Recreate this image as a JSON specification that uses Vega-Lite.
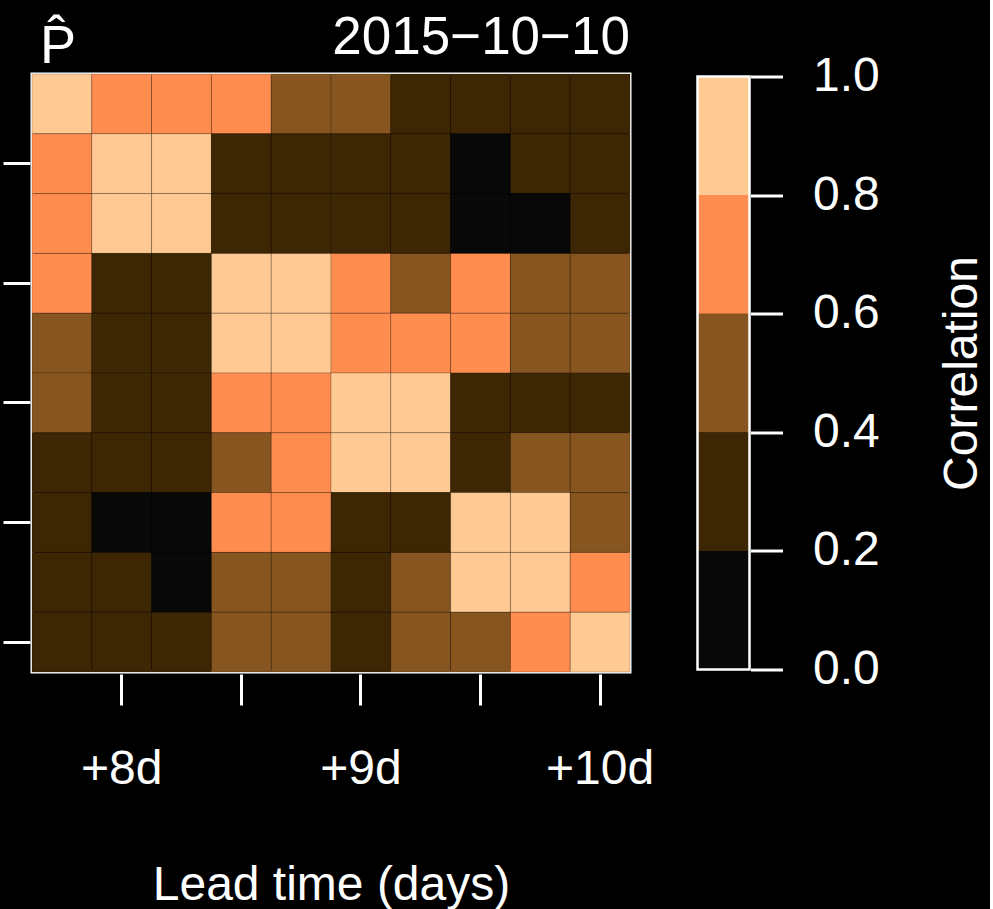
{
  "$schema": "https://vega.github.io/schema/vega-lite/v6.json",
  "autosize": {"type": "pad"},
  "padding": {"left": 0, "top": 10, "right": 3, "bottom": 0},
  "background": "black",
  "config": {"view": {"stroke": "white", "strokeWidth": 3}, "font": "Liberation Sans"},
  "bounds": "flush",
  "center": true,
  "spacing": 67.5,
  "datasets": {
    "cells": [
      {"col":7.75,"row":7.75,"r":1.00},{"col":8,"row":7.75,"r":0.72},{"col":8.25,"row":7.75,"r":0.68},{"col":8.5,"row":7.75,"r":0.64},{"col":8.75,"row":7.75,"r":0.55},{"col":9,"row":7.75,"r":0.47},{"col":9.25,"row":7.75,"r":0.36},{"col":9.5,"row":7.75,"r":0.28},{"col":9.75,"row":7.75,"r":0.31},{"col":10,"row":7.75,"r":0.25},
      {"col":7.75,"row":8,"r":0.72},{"col":8,"row":8,"r":1.00},{"col":8.25,"row":8,"r":0.93},{"col":8.5,"row":8,"r":0.34},{"col":8.75,"row":8,"r":0.30},{"col":9,"row":8,"r":0.27},{"col":9.25,"row":8,"r":0.24},{"col":9.5,"row":8,"r":0.15},{"col":9.75,"row":8,"r":0.22},{"col":10,"row":8,"r":0.26},
      {"col":7.75,"row":8.25,"r":0.68},{"col":8,"row":8.25,"r":0.93},{"col":8.25,"row":8.25,"r":1.00},{"col":8.5,"row":8.25,"r":0.37},{"col":8.75,"row":8.25,"r":0.33},{"col":9,"row":8.25,"r":0.29},{"col":9.25,"row":8.25,"r":0.26},{"col":9.5,"row":8.25,"r":0.12},{"col":9.75,"row":8.25,"r":0.17},{"col":10,"row":8.25,"r":0.23},
      {"col":7.75,"row":8.5,"r":0.64},{"col":8,"row":8.5,"r":0.34},{"col":8.25,"row":8.5,"r":0.37},{"col":8.5,"row":8.5,"r":1.00},{"col":8.75,"row":8.5,"r":0.91},{"col":9,"row":8.5,"r":0.71},{"col":9.25,"row":8.5,"r":0.57},{"col":9.5,"row":8.5,"r":0.63},{"col":9.75,"row":8.5,"r":0.49},{"col":10,"row":8.5,"r":0.44},
      {"col":7.75,"row":8.75,"r":0.55},{"col":8,"row":8.75,"r":0.30},{"col":8.25,"row":8.75,"r":0.33},{"col":8.5,"row":8.75,"r":0.91},{"col":8.75,"row":8.75,"r":1.00},{"col":9,"row":8.75,"r":0.76},{"col":9.25,"row":8.75,"r":0.66},{"col":9.5,"row":8.75,"r":0.61},{"col":9.75,"row":8.75,"r":0.52},{"col":10,"row":8.75,"r":0.46},
      {"col":7.75,"row":9,"r":0.47},{"col":8,"row":9,"r":0.27},{"col":8.25,"row":9,"r":0.29},{"col":8.5,"row":9,"r":0.71},{"col":8.75,"row":9,"r":0.76},{"col":9,"row":9,"r":1.00},{"col":9.25,"row":9,"r":0.89},{"col":9.5,"row":9,"r":0.38},{"col":9.75,"row":9,"r":0.32},{"col":10,"row":9,"r":0.35},
      {"col":7.75,"row":9.25,"r":0.36},{"col":8,"row":9.25,"r":0.24},{"col":8.25,"row":9.25,"r":0.26},{"col":8.5,"row":9.25,"r":0.57},{"col":8.75,"row":9.25,"r":0.66},{"col":9,"row":9.25,"r":0.89},{"col":9.25,"row":9.25,"r":1.00},{"col":9.5,"row":9.25,"r":0.39},{"col":9.75,"row":9.25,"r":0.45},{"col":10,"row":9.25,"r":0.43},
      {"col":7.75,"row":9.5,"r":0.28},{"col":8,"row":9.5,"r":0.15},{"col":8.25,"row":9.5,"r":0.12},{"col":8.5,"row":9.5,"r":0.63},{"col":8.75,"row":9.5,"r":0.61},{"col":9,"row":9.5,"r":0.38},{"col":9.25,"row":9.5,"r":0.39},{"col":9.5,"row":9.5,"r":1.00},{"col":9.75,"row":9.5,"r":0.92},{"col":10,"row":9.5,"r":0.58},
      {"col":7.75,"row":9.75,"r":0.31},{"col":8,"row":9.75,"r":0.22},{"col":8.25,"row":9.75,"r":0.17},{"col":8.5,"row":9.75,"r":0.49},{"col":8.75,"row":9.75,"r":0.52},{"col":9,"row":9.75,"r":0.32},{"col":9.25,"row":9.75,"r":0.45},{"col":9.5,"row":9.75,"r":0.92},{"col":9.75,"row":9.75,"r":1.00},{"col":10,"row":9.75,"r":0.74},
      {"col":7.75,"row":10,"r":0.25},{"col":8,"row":10,"r":0.26},{"col":8.25,"row":10,"r":0.23},{"col":8.5,"row":10,"r":0.44},{"col":8.75,"row":10,"r":0.46},{"col":9,"row":10,"r":0.35},{"col":9.25,"row":10,"r":0.43},{"col":9.5,"row":10,"r":0.58},{"col":9.75,"row":10,"r":0.74},{"col":10,"row":10,"r":1.00}
    ],
    "key": [
      {"lo": 0.0, "hi": 0.2},
      {"lo": 0.2, "hi": 0.4},
      {"lo": 0.4, "hi": 0.6},
      {"lo": 0.6, "hi": 0.8},
      {"lo": 0.8, "hi": 1.0}
    ]
  },
  "hconcat": [
    {
      "width": 598,
      "height": 598,
      "data": {"name": "cells"},
      "title": {"text": "2015−10−10", "anchor": "end", "frame": "group", "fontSize": 53, "font": "Liberation Sans", "fontWeight": "normal", "color": "white", "baseline": "alphabetic", "offset": -88},
      "mark": {"type": "rect", "stroke": "black", "strokeOpacity": 0.2, "strokeWidth": 1},
      "encoding": {
        "x": {
          "field": "col", "type": "ordinal",
          "scale": {"paddingInner": 0, "paddingOuter": 0},
          "axis": {
            "orient": "bottom", "offset": 2, "domain": false,
            "values": [8, 8.5, 9, 9.5, 10],
            "labelExpr": "datum.value % 1 === 0 ? '+' + datum.value + 'd' : ''",
            "tickColor": "white", "tickWidth": 3, "tickSize": 31,
            "labelColor": "white", "labelFontSize": 48, "labelFont": "Liberation Sans",
            "labelAngle": 0, "labelBaseline": "alphabetic", "labelPadding": 78,
            "labelOverlap": false, "labelFlush": false,
            "title": "Lead time (days)", "titleColor": "white", "titleFontSize": 48,
            "titleFont": "Liberation Sans", "titleFontWeight": "normal",
            "titleBaseline": "alphabetic", "titleY": 225
          }
        },
        "y": {
          "field": "row", "type": "ordinal",
          "scale": {"paddingInner": 0, "paddingOuter": 0},
          "axis": {
            "orient": "left", "offset": 2, "domain": false, "labels": false,
            "values": [8, 8.5, 9, 9.5, 10],
            "tickColor": "white", "tickWidth": 3, "tickSize": 27,
            "title": "P̂", "titleAngle": 0, "titleAlign": "center",
            "titleBaseline": "alphabetic", "titleX": 27.5, "titleY": -12,
            "titleColor": "white", "titleFontSize": 54, "titleFont": "Liberation Sans",
            "titleFontWeight": "normal"
          }
        },
        "color": {
          "field": "r", "type": "quantitative",
          "scale": {"type": "quantize", "domain": [0, 1], "range": ["#080808", "#3D2604", "#875520", "#FF8D4F", "#FFC994"]},
          "legend": null
        }
      }
    },
    {
      "width": 52,
      "height": 593,
      "data": {"name": "key"},
      "view": {"stroke": null},
      "layer": [
        {
          "mark": {"type": "rect"},
          "encoding": {
            "y": {
              "field": "lo", "type": "quantitative", "title": "Correlation",
              "scale": {"domain": [0, 1], "nice": false, "zero": false},
              "axis": {
                "orient": "right", "offset": 1, "domain": false, "grid": false,
                "values": [0, 0.2, 0.4, 0.6, 0.8, 1], "format": ".1f",
                "tickColor": "white", "tickWidth": 3, "tickSize": 32,
                "labelColor": "white", "labelFontSize": 48, "labelFont": "Liberation Sans",
                "labelPadding": 30, "labelBaseline": "middle", "labelAlign": "left",
                "labelFlush": false, "labelOverlap": false, "labelBound": false,
                "title": "Correlation", "titleAngle": 270, "titleAlign": "center",
                "titleBaseline": "alphabetic", "titleX": 226, "titleY": 296.5,
                "titleColor": "white", "titleFontSize": 48, "titleFont": "Liberation Sans",
                "titleFontWeight": "normal"
              }
            },
            "y2": {"field": "hi"},
            "color": {
              "field": "lo", "type": "quantitative",
              "scale": {"type": "quantize", "domain": [0, 1], "range": ["#080808", "#3D2604", "#875520", "#FF8D4F", "#FFC994"]},
              "legend": null
            }
          }
        },
        {
          "mark": {"type": "rect", "fillOpacity": 0, "stroke": "white", "strokeWidth": 2.5},
          "encoding": {
            "y": {"aggregate": "min", "field": "lo", "type": "quantitative", "title": "Correlation"},
            "y2": {"aggregate": "max", "field": "hi"}
          }
        }
      ]
    }
  ]
}
